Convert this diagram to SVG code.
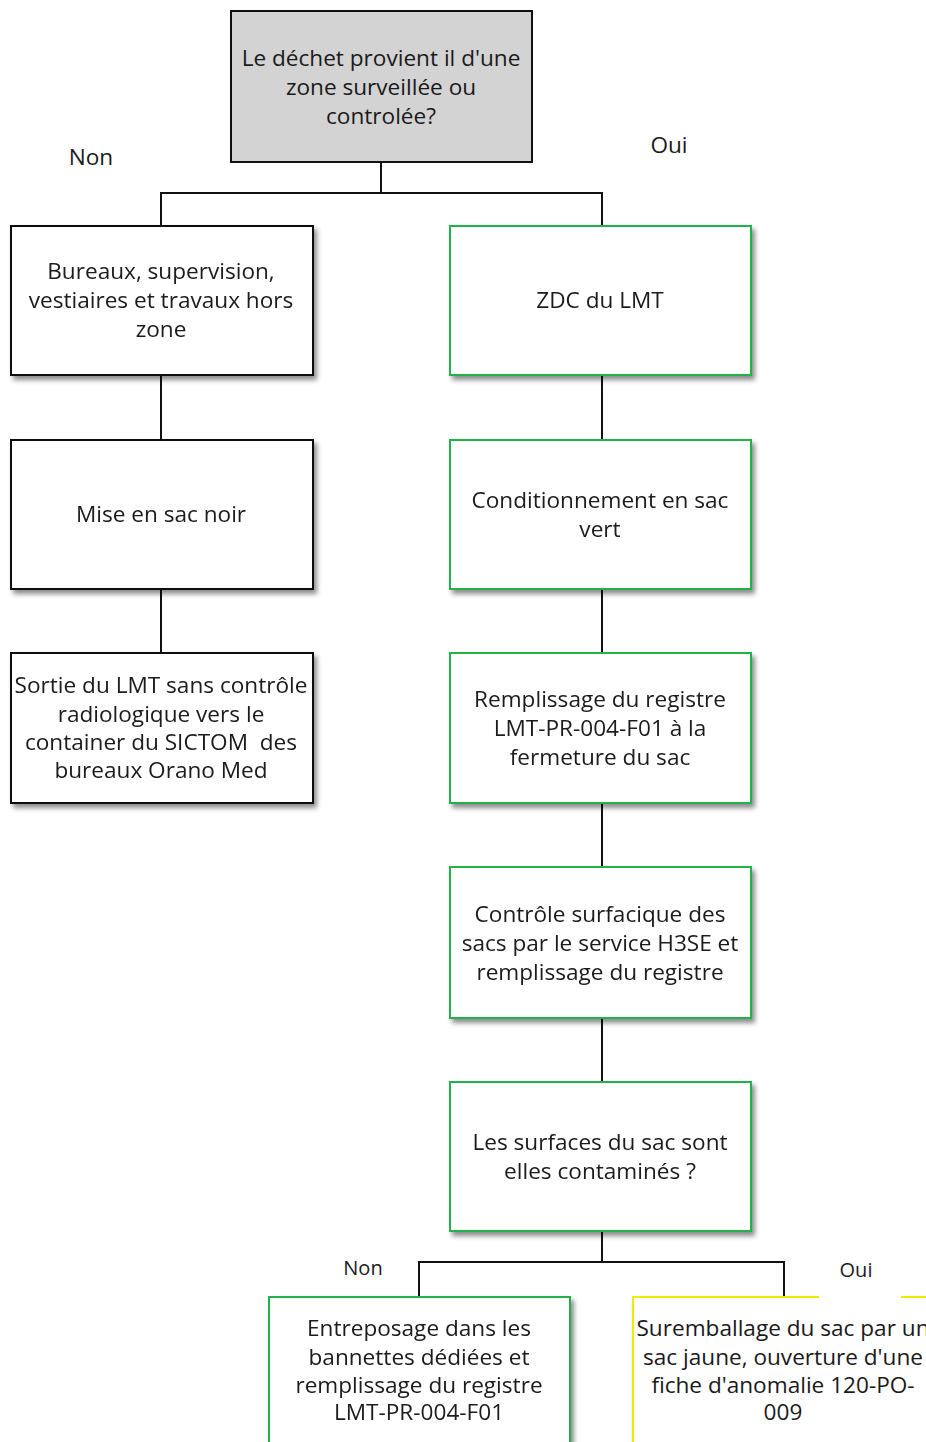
<svg xmlns="http://www.w3.org/2000/svg" width="926" height="1442" viewBox="0 0 926 1442">
<style>
.t{font-family:"Open Sans","Liberation Sans","DejaVu Sans",sans-serif;font-size:22.6px;fill:#1a1a1a;text-anchor:middle;dominant-baseline:central}
.s{font-size:20px}
.k{fill:#fff;stroke:#111;stroke-width:2}
.g{fill:#fff;stroke:#22b14c;stroke-width:2}
.y{fill:#fff;stroke:#f2ea00;stroke-width:2}
.c{fill:none;stroke:#111;stroke-width:2}
</style>
<defs>
<filter id="sh" x="-10%" y="-10%" width="130%" height="130%">
<feDropShadow dx="3" dy="4" stdDeviation="2.5" flood-color="#000" flood-opacity="0.45"/>
</filter>
</defs>
<rect width="926" height="1442" fill="#fff"/>
<g id="connectors">
<path class="c" d="M381 162V193M161 226V193H602V226"/>
<path class="c" d="M161 375V440M161 589V653"/>
<path class="c" d="M602 375V440M602 589V653M602 803V867M602 1018V1082"/>
<path class="c" d="M602 1231V1262M419 1297V1262H784V1297"/>
</g>
<g id="labels">
<text class="t" x="91" y="156">Non</text>
<text class="t" x="669" y="144">Oui</text>
<text class="t s" x="363" y="1267">Non</text>
<text class="t s" x="856" y="1269">Oui</text>
</g>
<g id="n0">
<rect x="231" y="11" width="301" height="151" fill="#d3d3d3" stroke="#111" stroke-width="2"/>
<text class="t" x="381" y="57">Le déchet provient il d'une</text>
<text class="t" x="381" y="86">zone surveillée ou</text>
<text class="t" x="381" y="115">controlée?</text>
</g>
<g id="n1" filter="url(#sh)">
<rect class="k" x="11" y="226" width="302" height="149"/>
<text class="t" x="161" y="270">Bureaux, supervision,</text>
<text class="t" x="161" y="299">vestiaires et travaux hors</text>
<text class="t" x="161" y="328">zone</text>
</g>
<g id="n2" filter="url(#sh)">
<rect class="k" x="11" y="440" width="302" height="149"/>
<text class="t" x="161" y="513">Mise en sac noir</text>
</g>
<g id="n3" filter="url(#sh)">
<rect class="k" x="11" y="653" width="302" height="150"/>
<text class="t" x="161" y="684">Sortie du LMT sans contrôle</text>
<text class="t" x="161" y="713">radiologique vers le</text>
<text class="t" x="161" y="741" xml:space="preserve">container du SICTOM  des</text>
<text class="t" x="161" y="769">bureaux Orano Med</text>
</g>
<g id="n4" filter="url(#sh)">
<rect class="g" x="450" y="226" width="301" height="149"/>
<text class="t" x="600" y="299">ZDC du LMT</text>
</g>
<g id="n5" filter="url(#sh)">
<rect class="g" x="450" y="440" width="301" height="149"/>
<text class="t" x="600" y="499">Conditionnement en sac</text>
<text class="t" x="600" y="528">vert</text>
</g>
<g id="n6" filter="url(#sh)">
<rect class="g" x="450" y="653" width="301" height="150"/>
<text class="t" x="600" y="698">Remplissage du registre</text>
<text class="t" x="600" y="727">LMT-PR-004-F01 à la</text>
<text class="t" x="600" y="756">fermeture du sac</text>
</g>
<g id="n7" filter="url(#sh)">
<rect class="g" x="450" y="867" width="301" height="151"/>
<text class="t" x="600" y="913">Contrôle surfacique des</text>
<text class="t" x="600" y="942">sacs par le service H3SE et</text>
<text class="t" x="600" y="971">remplissage du registre</text>
</g>
<g id="n8" filter="url(#sh)">
<rect class="g" x="450" y="1082" width="301" height="149"/>
<text class="t" x="600" y="1141">Les surfaces du sac sont</text>
<text class="t" x="600" y="1170">elles contaminés ?</text>
</g>
<g id="n9" filter="url(#sh)">
<rect class="g" x="269" y="1297" width="301" height="160"/>
<text class="t" x="419" y="1327">Entreposage dans les</text>
<text class="t" x="419" y="1356">bannettes dédiées et</text>
<text class="t" x="419" y="1384">remplissage du registre</text>
<text class="t" x="419" y="1411">LMT-PR-004-F01</text>
</g>
<g id="n10">
<rect class="y" x="633" y="1297" width="301" height="160" filter="url(#sh)"/>
<rect x="819" y="1294" width="82" height="6" fill="#fff"/>
<text class="t" x="783" y="1327">Suremballage du sac par un</text>
<text class="t" x="783" y="1356">sac jaune, ouverture d'une</text>
<text class="t" x="783" y="1384">fiche d'anomalie 120-PO-</text>
<text class="t" x="783" y="1411">009</text>
</g>
</svg>
